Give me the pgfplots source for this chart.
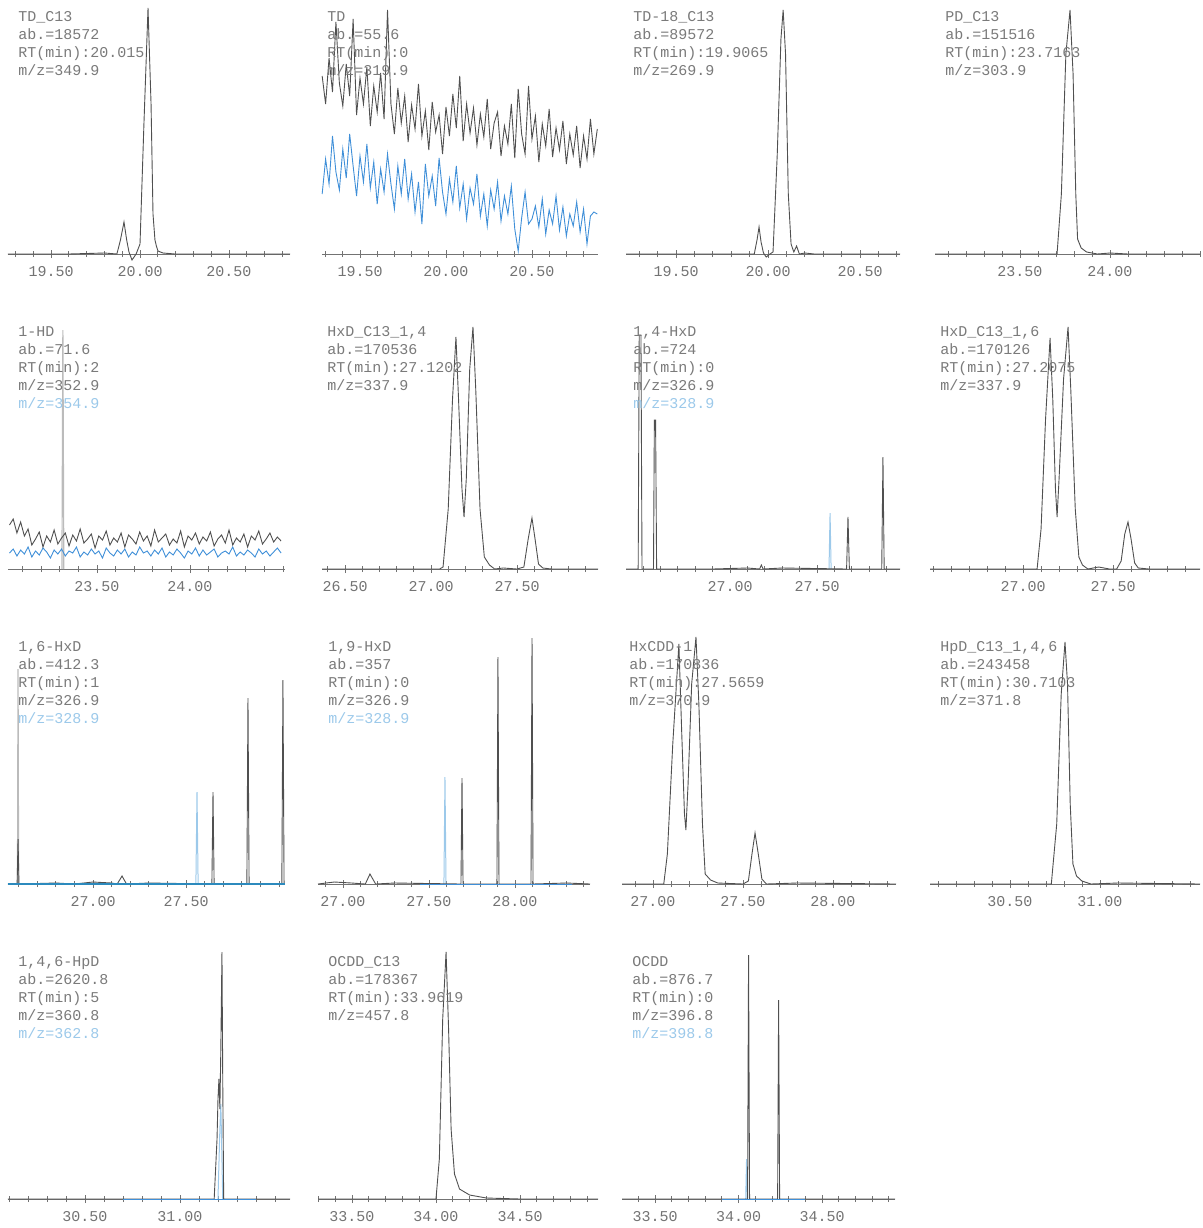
\documentclass[border=0pt]{standalone}
\usepackage{pgfplots}
\pgfplotsset{compat=1.18}
\usepackage{fontspec}
\newfontfamily\mono{Liberation Mono}
\newcommand\labfont{\mono\fontsize{7.5}{9}\selectfont}
\newcommand\tickfont{\mono\fontsize{7.5}{9}\selectfont}
\definecolor{blk}{HTML}{505050}
\definecolor{bl}{HTML}{3F8FD8}
\definecolor{lbl}{HTML}{9CC9EA}
\definecolor{gl}{HTML}{BBBBBB}
\pgfplotsset{
  chrom/.style={scale only axis, height=125pt, ymin=0, ymax=250,
    axis x line=bottom, axis y line=none, ytick=\empty,
    axis line style={-, draw=black!55, line width=0.5pt},
    tick align=center, major tick length=4pt, minor tick length=3pt,
    tick style={draw=black!55, line width=0.4pt},
    xticklabel style={font=\tickfont, text=black!55, inner sep=0pt, yshift=-4pt},
    clip=false, anchor=south west},
  blk/.style={draw=blk, line width=0.45pt, mark=none},
  blu/.style={draw=bl, line width=0.45pt, mark=none},
  lblu/.style={draw=lbl, line width=0.5pt, mark=none},
  lgry/.style={draw=gl, line width=0.6pt, mark=none},
}
\tikzset{lab/.style={anchor=north west, inner sep=0pt, align=left, font=\labfont, text=black!52}}
\begin{document}
\begin{tikzpicture}
\useasboundingbox (0,0) rectangle (601.5pt,-614pt);
% ---------------- Row 1 ----------------
\begin{axis}[chrom, at={(4pt,-127pt)}, width=141pt, xmin=19.258, xmax=20.843,
  xtick={19.5,20,20.5}, xticklabels={19.50,20.00,20.50}, minor xtick={19.3,19.4,...,20.8}]
\addplot[blk] coordinates {(19.258,0)(19.6,0)(19.8,1)(19.87,0)(19.89,14)(19.91,32)(19.925,14)(19.938,2)(19.955,-6)(19.978,0)(20.0,10)(20.022,130)(20.045,246)(20.062,150)(20.073,40)(20.084,14)(20.092,8)(20.101,3)(20.129,1)(20.197,0)(20.843,0)};
\node[lab, xshift=5pt, yshift=-3.5pt] at (rel axis cs:0,1) {TD\_C13\\ab.=18572\\RT(min):20.015\\m/z=349.9};
\end{axis}
\begin{axis}[chrom, at={(161pt,-127pt)}, width=138pt, xmin=19.279, xmax=20.884,
  xtick={19.5,20,20.5}, xticklabels={19.50,20.00,20.50}, minor xtick={19.3,19.4,...,20.8}]
\addplot[blu] coordinates {(19.28,60)(19.30,95)(19.32,70)(19.34,118)(19.36,82)(19.38,64)(19.40,105)(19.42,76)(19.44,120)(19.46,88)
(19.48,58)(19.50,98)(19.52,72)(19.54,110)(19.56,66)(19.58,92)(19.60,50)(19.62,85)(19.64,62)(19.66,100)
(19.68,70)(19.70,45)(19.72,88)(19.74,60)(19.76,95)(19.78,55)(19.80,80)(19.82,42)(19.84,72)(19.86,30)
(19.88,90)(19.90,58)(19.92,78)(19.94,48)(19.96,96)(19.98,62)(20.00,40)(20.02,75)(20.04,52)(20.06,88)
(20.08,46)(20.10,70)(20.12,35)(20.14,66)(20.16,50)(20.18,80)(20.20,38)(20.22,60)(20.24,28)(20.26,64)
(20.28,45)(20.30,72)(20.32,33)(20.34,58)(20.36,40)(20.38,68)(20.40,25)(20.42,3)(20.44,36)(20.46,62)
(20.48,30)(20.50,35)(20.52,48)(20.54,27)(20.56,55)(20.58,20)(20.60,44)(20.62,30)(20.64,58)(20.66,24)
(20.68,47)(20.70,18)(20.72,40)(20.74,28)(20.76,52)(20.78,22)(20.80,45)(20.82,10)(20.84,38)(20.86,42)(20.88,40)};
\addplot[blk] coordinates {(19.28,178)(19.30,150)(19.32,196)(19.34,162)(19.36,232)(19.38,171)(19.40,148)(19.42,190)(19.44,158)(19.46,235)
(19.48,139)(19.50,176)(19.52,150)(19.54,187)(19.56,128)(19.58,168)(19.60,142)(19.62,181)(19.64,135)(19.66,244)
(19.68,150)(19.70,120)(19.72,166)(19.74,131)(19.76,158)(19.78,112)(19.80,149)(19.82,125)(19.84,170)(19.86,118)
(19.88,143)(19.90,104)(19.92,152)(19.94,122)(19.96,139)(19.98,100)(20.00,147)(20.02,118)(20.04,160)(20.06,126)
(20.08,178)(20.10,113)(20.12,150)(20.14,121)(20.16,146)(20.18,109)(20.20,140)(20.22,117)(20.24,155)(20.26,105)
(20.28,131)(20.30,142)(20.32,98)(20.34,128)(20.36,110)(20.38,150)(20.40,96)(20.42,165)(20.44,120)(20.46,100)
(20.48,168)(20.50,115)(20.52,138)(20.54,92)(20.56,130)(20.58,108)(20.60,145)(20.62,97)(20.64,126)(20.66,104)
(20.68,133)(20.70,90)(20.72,120)(20.74,99)(20.76,128)(20.78,86)(20.80,118)(20.82,95)(20.84,135)(20.86,100)(20.88,125)};
\node[lab, xshift=2.5pt, yshift=-3.5pt] at (rel axis cs:0,1) {TD\\ab.=55.6\\RT(min):0\\m/z=319.9};
\end{axis}
\begin{axis}[chrom, at={(313pt,-127pt)}, width=137pt, xmin=19.228, xmax=20.717,
  xtick={19.5,20,20.5}, xticklabels={19.50,20.00,20.50}, minor xtick={19.3,19.4,...,20.7}]
\addplot[blk] coordinates {(19.228,0)(19.7,0)(19.88,0)(19.925,0)(19.94,14)(19.951,27)(19.962,12)(19.975,1)(19.99,-3)(20.01,0)(20.027,2)(20.05,100)(20.07,215)(20.082,244)(20.095,200)(20.11,60)(20.125,10)(20.14,2)(20.155,8)(20.17,0)(20.2,1)(20.25,0)(20.717,0)};
\node[lab, xshift=3.5pt, yshift=-3.5pt] at (rel axis cs:0,1) {TD-18\_C13\\ab.=89572\\RT(min):19.9065\\m/z=269.9};
\end{axis}
\begin{axis}[chrom, at={(467.5pt,-127pt)}, width=132.5pt, xmin=23.028, xmax=24.5,
  xtick={23.5,24}, xticklabels={23.50,24.00}, minor xtick={23.1,23.2,...,24.5}]
\addplot[blk] coordinates {(23.028,0)(23.6,0)(23.706,0)(23.73,60)(23.755,200)(23.778,244)(23.795,180)(23.81,60)(23.82,15)(23.84,6)(23.87,2)(23.93,0)(24.0,1)(24.1,0)(24.5,0)};
\node[lab, xshift=5pt, yshift=-3.5pt] at (rel axis cs:0,1) {PD\_C13\\ab.=151516\\RT(min):23.7163\\m/z=303.9};
\end{axis}
% ---------------- Row 2 ----------------
\begin{axis}[chrom, at={(4pt,-284.5pt)}, width=138.5pt, xmin=23.022, xmax=24.511,
  xtick={23.5,24}, xticklabels={23.50,24.00}, minor xtick={23.1,23.2,...,24.5}]
\addplot[lgry] coordinates {(23.312,0)(23.317,239)(23.322,0)};
\addplot[blu] coordinates {(23.03,16)(23.05,20)(23.07,13)(23.09,19)(23.11,15)(23.13,22)(23.15,12)(23.17,18)(23.19,14)(23.21,21)
(23.23,17)(23.25,11)(23.27,19)(23.29,15)(23.31,20)(23.33,13)(23.35,18)(23.37,16)(23.39,22)(23.41,12)
(23.43,17)(23.45,14)(23.47,20)(23.49,15)(23.51,18)(23.53,11)(23.55,21)(23.57,16)(23.59,13)(23.61,19)
(23.63,15)(23.65,20)(23.67,12)(23.69,17)(23.71,14)(23.73,22)(23.75,16)(23.77,18)(23.79,13)(23.81,19)
(23.83,15)(23.85,21)(23.87,12)(23.89,17)(23.91,14)(23.93,20)(23.95,16)(23.97,11)(23.99,18)(24.01,15)
(24.03,21)(24.05,13)(24.07,19)(24.09,14)(24.11,17)(24.13,20)(24.15,12)(24.17,16)(24.19,18)(24.21,15)
(24.23,22)(24.25,13)(24.27,17)(24.29,14)(24.31,19)(24.33,16)(24.35,12)(24.37,20)(24.39,15)(24.41,18)
(24.43,13)(24.45,17)(24.47,21)(24.49,16)};
\addplot[blk] coordinates {(23.03,44)(23.05,50)(23.07,36)(23.09,47)(23.11,33)(23.13,40)(23.15,24)(23.17,30)(23.19,37)(23.21,22)
(23.23,33)(23.25,27)(23.27,39)(23.29,25)(23.31,31)(23.33,36)(23.35,23)(23.37,34)(23.39,28)(23.41,40)
(23.43,26)(23.45,30)(23.47,35)(23.49,21)(23.51,33)(23.53,29)(23.55,38)(23.57,24)(23.59,31)(23.61,27)
(23.63,36)(23.65,22)(23.67,34)(23.69,30)(23.71,25)(23.73,37)(23.75,28)(23.77,33)(23.79,23)(23.81,39)
(23.83,27)(23.85,31)(23.87,35)(23.89,24)(23.91,30)(23.93,26)(23.95,38)(23.97,22)(23.99,33)(24.01,29)
(24.03,36)(24.05,25)(24.07,32)(24.09,28)(24.11,37)(24.13,23)(24.15,30)(24.17,34)(24.19,26)(24.21,39)
(24.23,24)(24.25,31)(24.27,27)(24.29,35)(24.31,22)(24.33,33)(24.35,29)(24.37,38)(24.39,25)(24.41,30)
(24.43,36)(24.45,27)(24.47,32)(24.49,28)};
\node[lab, xshift=5pt, yshift=-3.5pt] at (rel axis cs:0,1) {1-HD\\ab.=71.6\\RT(min):2\\m/z=352.9\\\textcolor{lbl}{m/z=354.9}};
\end{axis}
\begin{axis}[chrom, at={(161pt,-284.5pt)}, width=138pt, xmin=26.366, xmax=27.971,
  xtick={26.5,27,27.5}, xticklabels={26.50,27.00,27.50}, minor xtick={26.4,26.5,...,27.9}]
\addplot[blk] coordinates {(26.366,0)(26.8,0)(27.05,0)(27.07,2)(27.10,60)(27.125,170)(27.145,232)(27.16,170)(27.18,80)(27.192,52)(27.205,90)(27.225,200)(27.244,242)(27.26,180)(27.285,60)(27.31,12)(27.34,4)(27.37,0)(27.42,1)(27.50,0)(27.54,2)(27.565,30)(27.587,51)(27.605,30)(27.625,5)(27.65,1)(27.7,0)(27.971,0)};
\node[lab, xshift=2.5pt, yshift=-3.5pt] at (rel axis cs:0,1) {HxD\_C13\_1,4\\ab.=170536\\RT(min):27.1202\\m/z=337.9};
\end{axis}
\begin{axis}[chrom, at={(313pt,-284.5pt)}, width=137pt, xmin=26.402, xmax=27.977,
  xtick={27,27.5}, xticklabels={27.00,27.50}, minor xtick={26.5,26.6,...,27.9}]
\addplot[lblu] coordinates {(27.569,0)(27.575,56)(27.581,0)};
\addplot[blk] coordinates {(26.402,0)(26.472,0)(26.478,234)(26.488,234)(26.494,0)(26.56,0)(26.565,149)(26.572,149)(26.578,0)(26.9,0)(27.1,1)(27.17,0)(27.18,4)(27.19,0)(27.3,1)(27.67,0)(27.678,52)(27.686,0)(27.872,0)(27.879,112)(27.886,0)(27.977,0)};
\node[lab, xshift=3.5pt, yshift=-3.5pt] at (rel axis cs:0,1) {1,4-HxD\\ab.=724\\RT(min):0\\m/z=326.9\\\textcolor{lbl}{m/z=328.9}};
\end{axis}
\begin{axis}[chrom, at={(465pt,-284.5pt)}, width=135pt, xmin=26.483, xmax=27.983,
  xtick={27,27.5}, xticklabels={27.00,27.50}, minor xtick={26.5,26.6,...,27.9}]
\addplot[blk] coordinates {(26.483,0)(26.9,0)(27.078,0)(27.10,40)(27.125,150)(27.15,231)(27.165,170)(27.18,80)(27.189,52)(27.20,90)(27.225,190)(27.25,242)(27.265,180)(27.29,60)(27.31,12)(27.33,4)(27.36,0)(27.42,2)(27.48,0)(27.52,0)(27.545,8)(27.565,35)(27.583,47)(27.60,30)(27.62,6)(27.64,1)(27.7,0)(27.983,0)};
\node[lab, xshift=5pt, yshift=-3.5pt] at (rel axis cs:0,1) {HxD\_C13\_1,6\\ab.=170126\\RT(min):27.2075\\m/z=337.9};
\end{axis}
% ---------------- Row 3 ----------------
\begin{axis}[chrom, at={(4pt,-442pt)}, width=138.5pt, xmin=26.543, xmax=28.032,
  xtick={27,27.5}, xticklabels={27.00,27.50}, minor xtick={26.6,26.7,...,28.0}]
\addplot[lgry] coordinates {(26.594,0)(26.597,215)(26.600,0)};
\addplot[lblu] coordinates {(27.553,0)(27.559,92)(27.565,0)};
\addplot[blk] coordinates {(26.543,0)(26.592,0)(26.597,45)(26.602,0)(26.8,1)(26.9,0)(27.0,2)(27.1,1)(27.13,0)(27.156,8)(27.18,0)(27.3,1)(27.639,0)(27.645,92)(27.651,0)(27.827,0)(27.833,186)(27.839,0)(28.015,0)(28.021,204)(28.027,0)(28.032,0)};
\addplot[draw=bl!70!teal, line width=0.6pt] coordinates {(26.543,0)(28.032,0)};
\node[lab, xshift=5pt, yshift=-3.5pt] at (rel axis cs:0,1) {1,6-HxD\\ab.=412.3\\RT(min):1\\m/z=326.9\\\textcolor{lbl}{m/z=328.9}};
\end{axis}
\begin{axis}[chrom, at={(159pt,-442pt)}, width=136pt, xmin=26.855, xmax=28.436,
  xtick={27,27.5,28}, xticklabels={27.00,27.50,28.00}, minor xtick={26.9,27.0,...,28.4}]
\addplot[lblu] coordinates {(27.587,0)(27.593,107)(27.599,0)};
\addplot[blk] coordinates {(26.855,0)(26.95,2)(27.05,1)(27.13,0)(27.157,10)(27.19,0)(27.3,1)(27.686,0)(27.692,106)(27.698,0)(27.895,0)(27.901,227)(27.907,0)(28.093,0)(28.099,246)(28.105,0)(28.3,1)(28.436,0)};
\addplot[draw=bl, line width=0.5pt] coordinates {(27.45,0)(28.33,0)};
\node[lab, xshift=5pt, yshift=-3.5pt] at (rel axis cs:0,1) {1,9-HxD\\ab.=357\\RT(min):0\\m/z=326.9\\\textcolor{lbl}{m/z=328.9}};
\end{axis}
\begin{axis}[chrom, at={(311pt,-442pt)}, width=137pt, xmin=26.828, xmax=28.35,
  xtick={27,27.5,28}, xticklabels={27.00,27.50,28.00}, minor xtick={26.9,27.0,...,28.3}]
\addplot[blk] coordinates {(26.828,0)(26.95,0)(27.06,0)(27.08,30)(27.11,140)(27.144,240)(27.16,150)(27.175,70)(27.183,54)(27.195,100)(27.215,200)(27.239,247)(27.255,180)(27.275,60)(27.29,10)(27.32,4)(27.36,1)(27.50,0)(27.53,3)(27.55,30)(27.567,51)(27.585,30)(27.605,5)(27.63,0)(27.8,1)(28.35,0)};
\node[lab, xshift=3.5pt, yshift=-3.5pt] at (rel axis cs:0,1) {HxCDD-1\\ab.=170836\\RT(min):27.5659\\m/z=370.9};
\end{axis}
\begin{axis}[chrom, at={(465pt,-442pt)}, width=135pt, xmin=30.056, xmax=31.556,
  xtick={30.5,31}, xticklabels={30.50,31.00}, minor xtick={30.1,30.2,...,31.5}]
\addplot[blk] coordinates {(30.056,0)(30.6,0)(30.73,0)(30.76,60)(30.785,190)(30.806,242)(30.82,200)(30.835,80)(30.85,20)(30.87,8)(30.9,3)(30.95,0)(31.1,1)(31.556,0)};
\node[lab, xshift=5pt, yshift=-3.5pt] at (rel axis cs:0,1) {HpD\_C13\_1,4,6\\ab.=243458\\RT(min):30.7103\\m/z=371.8};
\end{axis}
% ---------------- Row 4 ----------------
\begin{axis}[chrom, at={(4pt,-599.5pt)}, width=141pt, xmin=30.095, xmax=31.579,
  xtick={30.5,31}, xticklabels={30.50,31.00}, minor xtick={30.1,30.2,...,31.5}]
\addplot[lblu] coordinates {(31.20,0)(31.21,70)(31.215,95)(31.225,0)};
\addplot[blk] coordinates {(30.095,0)(31.18,0)(31.195,60)(31.20,100)(31.205,120)(31.21,90)(31.215,150)(31.221,247)(31.225,120)(31.23,0)(31.579,0)};
\addplot[draw=bl, line width=0.5pt] coordinates {(30.7,0)(31.4,0)};
\node[lab, xshift=5pt, yshift=-3.5pt] at (rel axis cs:0,1) {1,4,6-HpD\\ab.=2620.8\\RT(min):5\\m/z=360.8\\\textcolor{lbl}{m/z=362.8}};
\end{axis}
\begin{axis}[chrom, at={(159pt,-599.5pt)}, width=140pt, xmin=33.298, xmax=34.964,
  xtick={33.5,34,34.5}, xticklabels={33.50,34.00,34.50}, minor xtick={33.3,33.4,...,34.9}]
\addplot[blk] coordinates {(33.298,0)(33.8,0)(34.0,0)(34.02,40)(34.04,180)(34.06,247)(34.075,170)(34.09,70)(34.11,25)(34.14,10)(34.2,4)(34.3,1)(34.5,0)(34.964,0)};
\node[lab, xshift=5pt, yshift=-3.5pt] at (rel axis cs:0,1) {OCDD\_C13\\ab.=178367\\RT(min):33.9619\\m/z=457.8};
\end{axis}
\begin{axis}[chrom, at={(311pt,-599.5pt)}, width=136.5pt, xmin=33.302, xmax=34.937,
  xtick={33.5,34,34.5}, xticklabels={33.50,34.00,34.50}, minor xtick={33.4,33.5,...,34.9}]
\addplot[lblu] coordinates {(34.043,0)(34.048,40)(34.053,0)};
\addplot[blk] coordinates {(33.302,0)(34.054,0)(34.060,244)(34.066,0)(34.234,0)(34.240,199)(34.246,0)(34.937,0)};
\addplot[draw=bl, line width=0.5pt] coordinates {(33.9,0)(34.4,0)};
\node[lab, xshift=5pt, yshift=-3.5pt] at (rel axis cs:0,1) {OCDD\\ab.=876.7\\RT(min):0\\m/z=396.8\\\textcolor{lbl}{m/z=398.8}};
\end{axis}
\end{tikzpicture}
\end{document}
